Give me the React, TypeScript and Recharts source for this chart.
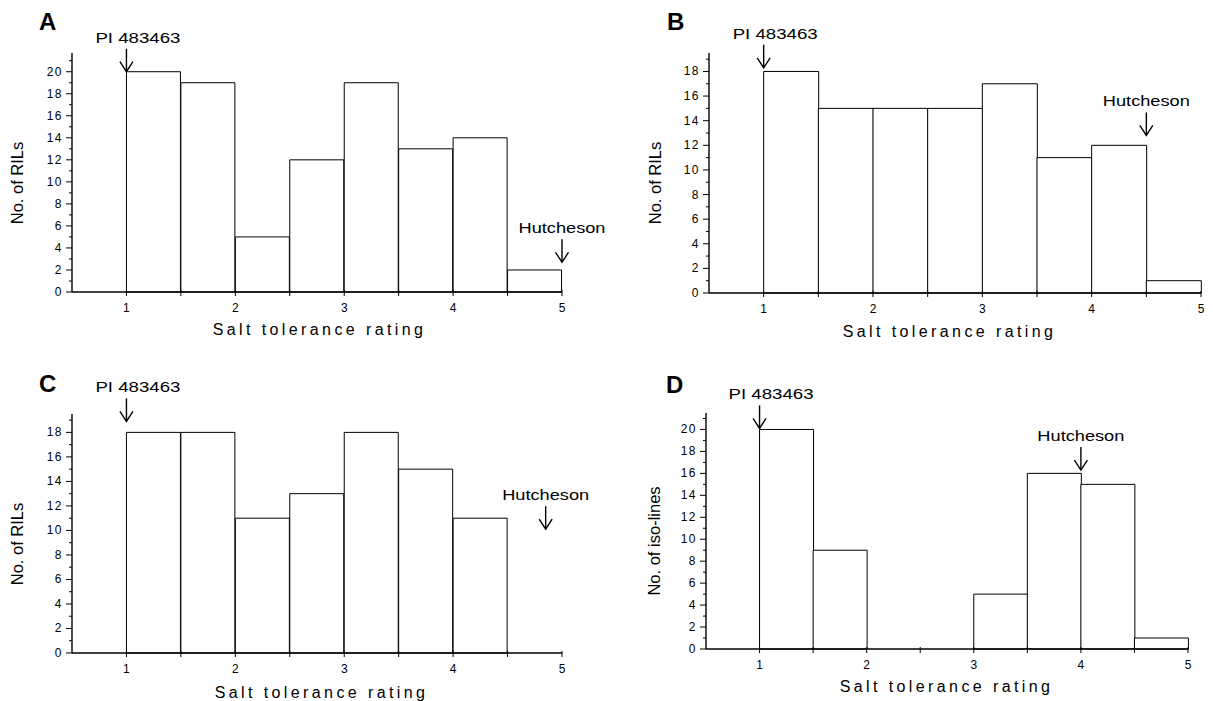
import React from 'react';
import { BarChart, Bar, XAxis, YAxis, ReferenceDot, Customized } from 'recharts';

const FONT = '"Liberation Sans", Arial, Helvetica, sans-serif';

// histogram bins, 0.5 wide; the first bin (0.5-1) is always empty
const binStarts = [0.5, 1, 1.5, 2, 2.5, 3, 3.5, 4, 4.5];
const ratingTicks = [1, 1.5, 2, 2.5, 3, 3.5, 4, 4.5, 5];

const countsA = [20, 19, 5, 12, 19, 13, 14, 2];
const countsB = [18, 15, 15, 15, 17, 11, 12, 1];
const countsC = [18, 18, 11, 13, 18, 15, 11, 0];
const countsD = [20, 9, 0, 0, 5, 16, 15, 1];

const yTicksA = [0, 1, 2, 3, 4, 5, 6, 7, 8, 9, 10, 11, 12, 13, 14, 15, 16, 17, 18, 19, 20, 21];
const yTicksB = [0, 1, 2, 3, 4, 5, 6, 7, 8, 9, 10, 11, 12, 13, 14, 15, 16, 17, 18, 19];
const yTicksC = [0, 1, 2, 3, 4, 5, 6, 7, 8, 9, 10, 11, 12, 13, 14, 15, 16, 17, 18, 19];
const yTicksD = [0, 1, 2, 3, 4, 5, 6, 7, 8, 9, 10, 11, 12, 13, 14, 15, 16, 17, 18, 19, 20, 21];

// parent lines: where each arrow points (rating, count)
const markersA = [
  { name: 'PI 483463', x: 1, y: 20 },
  { name: 'Hutcheson', x: 5, y: 2.7 },
];
const markersB = [
  { name: 'PI 483463', x: 1, y: 18.3 },
  { name: 'Hutcheson', x: 4.5, y: 12.8 },
];
const markersC = [
  { name: 'PI 483463', x: 1, y: 18.9 },
  { name: 'Hutcheson', x: 4.85, y: 10.1 },
];
const markersD = [
  { name: 'PI 483463', x: 1, y: 20.1 },
  { name: 'Hutcheson', x: 4, y: 16.3 },
];

function toRows(counts: number[]) {
  return binStarts.map((start, i) => ({
    bin: String(start),
    start,
    count: i === 0 ? null : counts[i - 1],
  }));
}

function YTick(props: any) {
  const { x, y, payload } = props;
  const v = payload.value;
  const major = v % 2 === 0;
  return (
    <g>
      <line x1={x - (major ? 6 : 3)} x2={x} y1={y} y2={y} stroke="#000" strokeWidth={1} />
      {major && (
        <text x={x - 9} y={y + 4} textAnchor="end" fontSize={12} letterSpacing={1.5} fontFamily={FONT} fill="#000">
          {v}
        </text>
      )}
    </g>
  );
}

function XTick(props: any) {
  const { x, y, payload } = props;
  const v = payload.value;
  const major = Number.isInteger(v);
  return (
    <g>
      <line x1={x} x2={x} y1={y - 2} y2={y + 4} stroke="#000" strokeWidth={1} />
      {major && (
        <text x={x} y={y + 20} textAnchor="middle" fontSize={12} fontFamily={FONT} fill="#000">
          {v}
        </text>
      )}
    </g>
  );
}

function arrowShape(name: string) {
  return function Arrow(p: any) {
    const { cx, cy } = p;
    const isPI = name.startsWith('PI');
    return (
      <g>
        <line x1={cx} x2={cx} y1={cy - 23} y2={cy} stroke="#000" strokeWidth={1.4} />
        <polyline
          points={`${cx - 6.5},${cy - 10} ${cx},${cy} ${cx + 6.5},${cy - 10}`}
          fill="none"
          stroke="#000"
          strokeWidth={1.4}
        />
        <text
          x={isPI ? cx - 31 : cx}
          y={cy - 29}
          textAnchor={isPI ? 'start' : 'middle'}
          fontSize={14}
          textLength={isPI ? 85 : 87}
          lengthAdjust="spacingAndGlyphs"
          fontFamily={FONT}
          fill="#000"
        >
          {name}
        </text>
      </g>
    );
  };
}

interface PanelProps {
  letter: string;
  yLabel: string;
  counts: number[];
  yTicks: number[];
  yMax: number;
  markers: { name: string; x: number; y: number }[];
  left: number;
  top: number;
  width: number;
  height: number;
  margin: { top: number; right: number; bottom: number; left: number };
  yAxisWidth: number;
  letterPos: [number, number];
  yLabelPos: [number, number];
  titlePos: [number, number];
}

function Panel(props: PanelProps) {
  const { letterPos, yLabelPos, titlePos } = props;
  return (
    <div style={{ position: 'absolute', left: props.left, top: props.top }}>
      <BarChart
        width={props.width}
        height={props.height}
        data={toRows(props.counts)}
        margin={props.margin}
        barCategoryGap={0}
        barGap={0}
      >
        <XAxis xAxisId="bins" dataKey="bin" type="category" height={0} hide />
        <XAxis
          xAxisId="num"
          dataKey="start"
          type="number"
          domain={[0.5, 5]}
          ticks={ratingTicks}
          interval={0}
          height={30}
          tickLine={false}
          tickSize={0}
          tickMargin={0}
          tick={<XTick />}
          axisLine={{ stroke: '#000', strokeWidth: 1.4 }}
        />
        <YAxis
          type="number"
          domain={[0, props.yMax]}
          ticks={props.yTicks}
          interval={0}
          width={props.yAxisWidth}
          tickLine={false}
          tickSize={0}
          tickMargin={0}
          tick={<YTick />}
          axisLine={{ stroke: '#000', strokeWidth: 1.4 }}
        />
        <Bar
          xAxisId="bins"
          dataKey="count"
          fill="#fff"
          stroke="#000"
          strokeWidth={1}
          isAnimationActive={false}
        />
        {props.markers.map((m) => (
          <ReferenceDot
            key={m.name}
            xAxisId="num"
            x={m.x}
            y={m.y}
            r={0}
            shape={arrowShape(m.name)}
          />
        ))}
        <Customized
          component={() => (
            <g fontFamily={FONT} fill="#000">
              <text x={letterPos[0]} y={letterPos[1]} fontSize={24} fontWeight="bold">
                {props.letter}
              </text>
              <text
                x={yLabelPos[0]}
                y={yLabelPos[1]}
                transform={`rotate(-90, ${yLabelPos[0]}, ${yLabelPos[1]})`}
                textAnchor="middle"
                dominantBaseline="central"
                fontSize={16.5}
              >
                {props.yLabel}
              </text>
              <text
                x={titlePos[0] + 1.5}
                y={titlePos[1]}
                textAnchor="middle"
                fontSize={16}
                letterSpacing={3.4}
              >
                Salt tolerance rating
              </text>
            </g>
          )}
        />
      </BarChart>
    </div>
  );
}

export default function App() {
  return (
    <div style={{ position: 'absolute', left: 0, top: 0, width: 1213, height: 701, background: '#fff' }}>
      <Panel
        letter="A"
        yLabel="No. of RILs"
        counts={countsA}
        yTicks={yTicksA}
        yMax={21.7}
        markers={markersA}
        left={0}
        top={0}
        width={625}
        height={345}
        margin={{ top: 53, right: 63, bottom: 23, left: 0 }}
        yAxisWidth={72}
        letterPos={[39, 30]}
        yLabelPos={[17, 183]}
        titlePos={[318, 335]}
      />
      <Panel
        letter="B"
        yLabel="No. of RILs"
        counts={countsB}
        yTicks={yTicksB}
        yMax={19.5}
        markers={markersB}
        left={600}
        top={0}
        width={613}
        height={345}
        margin={{ top: 53, right: 12, bottom: 22, left: 0 }}
        yAxisWidth={109}
        letterPos={[67, 30]}
        yLabelPos={[55, 183]}
        titlePos={[348, 337]}
      />
      <Panel
        letter="C"
        yLabel="No. of RILs"
        counts={countsC}
        yTicks={yTicksC}
        yMax={19.5}
        markers={markersC}
        left={0}
        top={345}
        width={625}
        height={356}
        margin={{ top: 69, right: 63, bottom: 18, left: 0 }}
        yAxisWidth={72}
        letterPos={[39, 47]}
        yLabelPos={[17, 199]}
        titlePos={[320, 353]}
      />
      <Panel
        letter="D"
        yLabel="No. of iso-lines"
        counts={countsD}
        yTicks={yTicksD}
        yMax={21.5}
        markers={markersD}
        left={600}
        top={345}
        width={613}
        height={356}
        margin={{ top: 68, right: 25, bottom: 22, left: 0 }}
        yAxisWidth={106}
        letterPos={[66, 48]}
        yLabelPos={[54, 196]}
        titlePos={[345, 347]}
      />
    </div>
  );
}
